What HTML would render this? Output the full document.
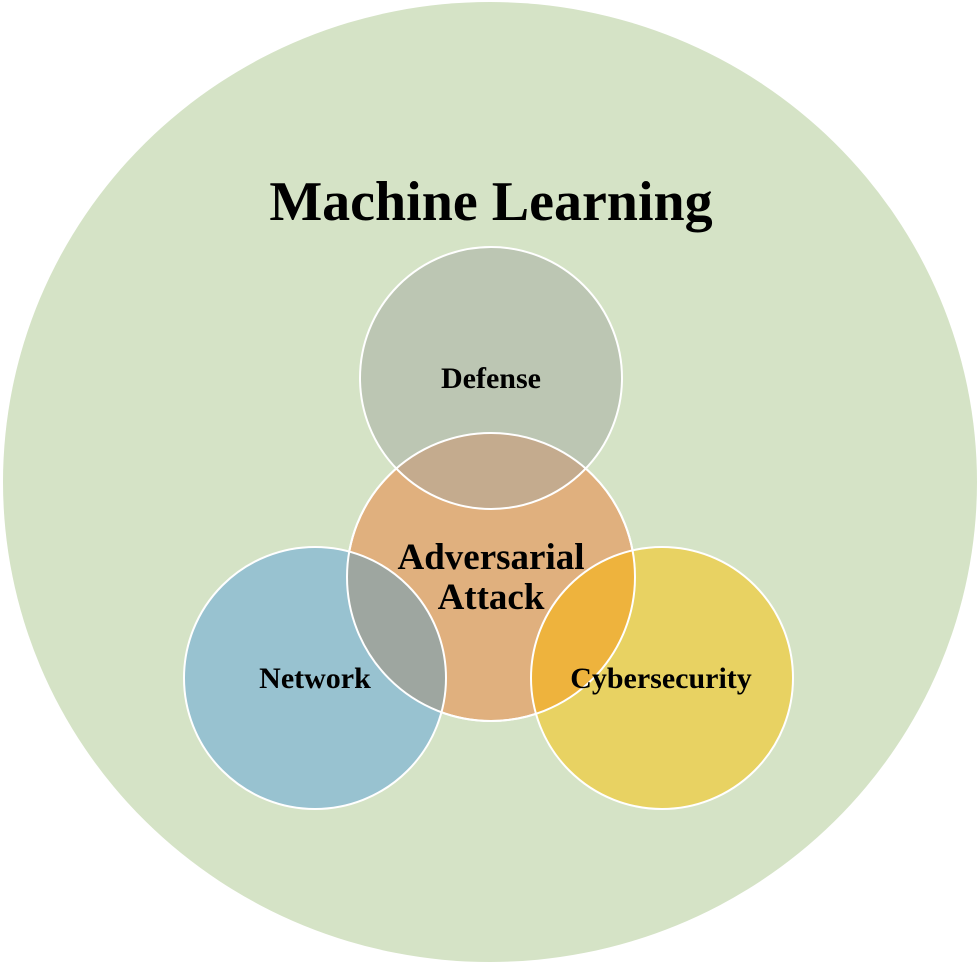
<!DOCTYPE html>
<html><head><meta charset="utf-8"><style>
html,body{margin:0;padding:0;background:#fff}
svg{display:block}
text{font-family:"Liberation Serif",serif;font-weight:bold;fill:#000;text-anchor:middle}
</style></head><body>
<svg width="980" height="965" viewBox="0 0 980 965" xmlns="http://www.w3.org/2000/svg">
<defs>
<clipPath id="cadv"><circle cx="491" cy="577" r="144"/></clipPath>
</defs>
<ellipse cx="490" cy="482" rx="487" ry="480" fill="#d5e3c6"/>
<text x="491" y="220" font-size="56">Machine Learning</text>
<circle cx="491" cy="577" r="144" fill="#e0b07e" stroke="#fff" stroke-width="2"/>
<circle cx="491" cy="378" r="131" fill="#bcc6b3"/>
<circle cx="315" cy="678" r="131" fill="#98c2d0"/>
<circle cx="662" cy="678" r="131" fill="#e8d262"/>
<g clip-path="url(#cadv)">
<circle cx="491" cy="378" r="131" fill="#c4ab8e"/>
<circle cx="315" cy="678" r="131" fill="#9ea6a0"/>
<circle cx="662" cy="678" r="131" fill="#eeb33d"/>
</g>
<g fill="none" stroke="#fff" stroke-width="2">
<circle cx="491" cy="577" r="144"/>
<circle cx="491" cy="378" r="131"/>
<circle cx="315" cy="678" r="131"/>
<circle cx="662" cy="678" r="131"/>
</g>
<text x="491" y="388" font-size="30">Defense</text>
<text x="491" y="569" font-size="37">Adversarial</text>
<text x="491" y="609" font-size="37">Attack</text>
<text x="315" y="688" font-size="30">Network</text>
<text x="661" y="688" font-size="30">Cybersecurity</text>
</svg>
</body></html>
